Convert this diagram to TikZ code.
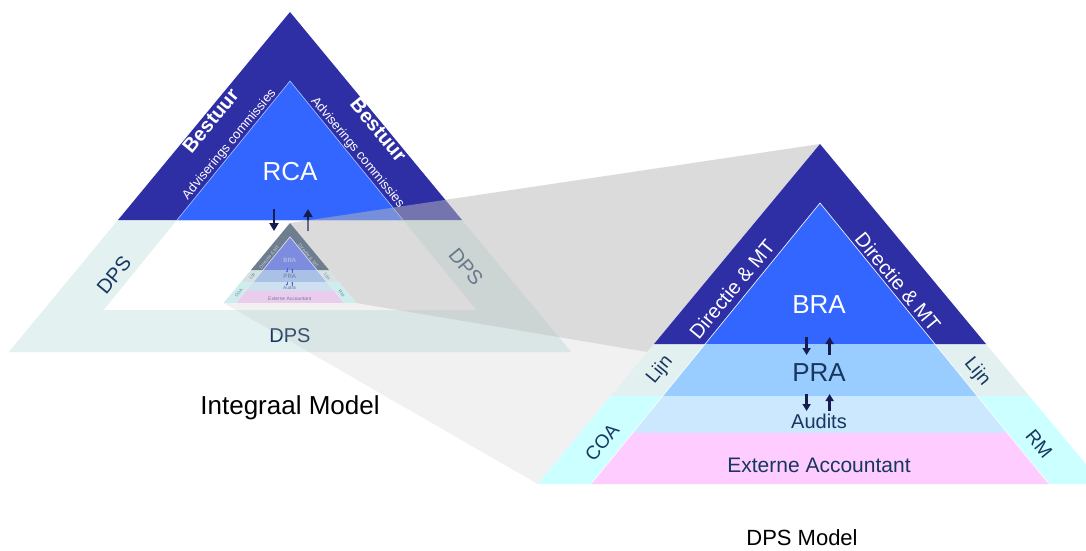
\documentclass[tikz,border=0pt]{standalone}
\usepackage{fontspec}
\setmainfont{Liberation Sans}
\usetikzlibrary{arrows.meta}
\definecolor{darkband}{RGB}{47,47,165}
\definecolor{rcablue}{RGB}{51,102,255}
\definecolor{dpsband}{RGB}{227,241,241}
\definecolor{navy}{RGB}{23,55,94}
\definecolor{arrnavy}{RGB}{22,28,78}
\definecolor{prablue}{RGB}{153,204,255}
\definecolor{audblue}{RGB}{204,232,255}
\definecolor{coacyan}{RGB}{204,255,255}
\definecolor{pinkband}{RGB}{255,204,255}
\definecolor{lijnband}{RGB}{226,240,239}
\definecolor{ovgray}{RGB}{185,185,185}
\newcommand\fsz[1]{\fontsize{#1}{#1}\selectfont}
\tikzset{
  lblw/.style={text=pTxtW, inner sep=0pt},
  lbln/.style={text=pTxtN, inner sep=0pt},
  arr/.style={draw=pArr, line width=2.4pt, -{Triangle[length=7pt,width=8pt]}},
  larr/.style={draw=arrnavy, line width=2.6pt, -{Triangle[length=8pt,width=9pt]}},
  wtxt/.style={text=white, inner sep=0pt},
  ntxt/.style={text=navy, inner sep=0pt},
}
\newcommand\pyr[1]{%
  \fill[pLijn] (654,344) -- (986,344) -- (1029.2,396) -- (610.8,396) -- cycle;
  \fill[pCOA] (610.8,396) -- (1029.2,396) -- (1102.2,484) -- (537.8,484) -- cycle;
  \fill[pDark] (820,144) -- (986,344) -- (654,344) -- cycle;
  \fill[pBRA] (820,203) -- (934.9,344) -- (705.1,344) -- cycle;
  \fill[pPRA] (705.1,344) -- (934.9,344) -- (977.3,396) -- (662.7,396) -- cycle;
  \fill[pAud] (662.7,396) -- (977.3,396) -- (1007.5,433) -- (632.5,433) -- cycle;
  \fill[pPink] (632.5,433) -- (1007.5,433) -- (1049,484) -- (591,484) -- cycle;
  \draw[pEdge, line width=0.6pt] (591,484) -- (820,203) -- (1049,484);
  \node[lblw, font=\fsz{26}] (#1bra) at (819,305) {BRA};
  \node[lbln, font=\fsz{26}] (#1pra) at (819,373) {PRA};
  \node[lbln, font=\fsz{20}] (#1aud) at (819,421) {Audits};
  \node[lbln, font=\fsz{21}] (#1ext) at (819,465) {Externe Accountant};
  \node[lblw, font=\fsz{20}, rotate=50.4] (#1dirl) at (732,289) {Directie \& MT};
  \node[lblw, font=\fsz{20}, rotate=-50.4] (#1dirr) at (898,282) {Directie \& MT};
  \node[lbln, font=\fsz{19}, rotate=50.4] (#1lijnl) at (660,370) {Lijn};
  \node[lbln, font=\fsz{19}, rotate=-50.4] (#1lijnr) at (977,372) {Lijn};
  \node[lbln, font=\fsz{19}, rotate=50.4] (#1coa) at (602,442) {COA};
  \node[lbln, font=\fsz{19}, rotate=-50.4] (#1rm) at (1039,444) {RM};
  \coordinate (#1a1s) at (806.6,337); \coordinate (#1a1e) at (806.6,355);
  \coordinate (#1a2s) at (829.6,355); \coordinate (#1a2e) at (829.6,337);
  \coordinate (#1a3s) at (806.6,394); \coordinate (#1a3e) at (806.6,411);
  \coordinate (#1a4s) at (829.6,411); \coordinate (#1a4e) at (829.6,394);
  \draw[arr] (#1a1s) -- (#1a1e);
  \draw[arr] (#1a2s) -- (#1a2e);
  \draw[arr] (#1a3s) -- (#1a3e);
  \draw[arr] (#1a4s) -- (#1a4e);
}
\begin{document}
\begin{tikzpicture}[x=1pt,y=-1pt]
\useasboundingbox (0,0) rectangle (1086,550);
\fill[white] (0,0) rectangle (1086,550);
\clip (0,0) rectangle (1086,550);
% ---------- left triangle (Integraal Model) ----------
\fill[dpsband] (118,220) -- (462,220) -- (571.2,352) -- (8.8,352) -- cycle;
\fill[white] (177,220) -- (403,220) -- (476.2,310) -- (103.8,310) -- cycle;
\fill[darkband] (290,12) -- (462,220) -- (118,220) -- cycle;
\fill[rcablue] (290,81) -- (403,220) -- (177,220) -- cycle;
\draw[white!60!rcablue, line width=0.6pt] (177,220) -- (290,81) -- (403,220);
\node[wtxt, font=\fsz{26}] (rca) at (290,172) {RCA};
\node[wtxt, font=\bfseries\fsz{20}, rotate=50.4] (bestl) at (210.5,120.7) {Bestuur};
\node[wtxt, font=\fsz{13}, rotate=50.4] (advl) at (229.5,144.5) {Adviserings commissies};
\node[wtxt, font=\bfseries\fsz{20}, rotate=-50.4] (bestr) at (378.5,129.7) {Bestuur};
\node[wtxt, font=\fsz{13}, rotate=-50.4] (advr) at (357.5,152.5) {Adviserings commissies};
\node[ntxt, font=\fsz{20}, rotate=50.4] (dpsl) at (114,275) {DPS};
\node[ntxt, font=\fsz{20}, rotate=-50.4] (dpsr) at (466,267) {DPS};
\node[ntxt, font=\fsz{20}] (dpsb) at (290,336) {DPS};
\coordinate (la1s) at (274,209); \coordinate (la1e) at (274,231);
\coordinate (la2s) at (308,231); \coordinate (la2e) at (308,209);
\draw[larr] (la1s) -- (la1e);
\draw[larr] (la2s) -- (la2e);
% ---------- projection funnel ----------
\fill[ovgray, opacity=0.5] (290,223) -- (820,144) -- (647.4,352) -- (356.3,303) -- cycle;
\fill[ovgray, opacity=0.2] (223.7,303) -- (356.3,303) -- (647.4,352) -- (537.8,484) -- cycle;
% ---------- small triangle ----------
\begin{scope}[shift={(290,223)}, scale=0.235, shift={(-820,-144)},
  every node/.append style={transform shape},
  arr/.style={draw=pArr, line width=0.5pt, -{Triangle[length=1.7pt,width=1.9pt]}}]
  \definecolor{pDark}{RGB}{110,126,142}
  \definecolor{pBRA}{RGB}{125,140,222}
  \definecolor{pPRA}{RGB}{168,193,228}
  \definecolor{pAud}{RGB}{204,224,240}
  \definecolor{pPink}{RGB}{234,204,236}
  \definecolor{pLijn}{RGB}{214,226,226}
  \definecolor{pCOA}{RGB}{206,238,238}
  \definecolor{pEdge}{RGB}{225,230,240}
  \definecolor{pTxtW}{RGB}{200,206,232}
  \definecolor{pTxtN}{RGB}{110,120,160}
  \definecolor{pArr}{RGB}{80,95,215}
  \pyr{s}
\end{scope}
% ---------- big triangle (DPS Model) ----------
\begin{scope}
  \colorlet{pDark}{darkband}
  \colorlet{pBRA}{rcablue}
  \colorlet{pPRA}{prablue}
  \colorlet{pAud}{audblue}
  \colorlet{pPink}{pinkband}
  \colorlet{pLijn}{lijnband}
  \colorlet{pCOA}{coacyan}
  \colorlet{pEdge}{white}
  \colorlet{pTxtW}{white}
  \colorlet{pTxtN}{navy}
  \colorlet{pArr}{arrnavy}
  \pyr{b}
\end{scope}
% ---------- captions ----------
\node[text=black, inner sep=0pt, font=\fsz{26}] (integ) at (290,408) {Integraal Model};
\node[text=black, inner sep=0pt, font=\fsz{22}] (dpsm) at (802,538) {DPS Model};
\end{tikzpicture}
\end{document}
